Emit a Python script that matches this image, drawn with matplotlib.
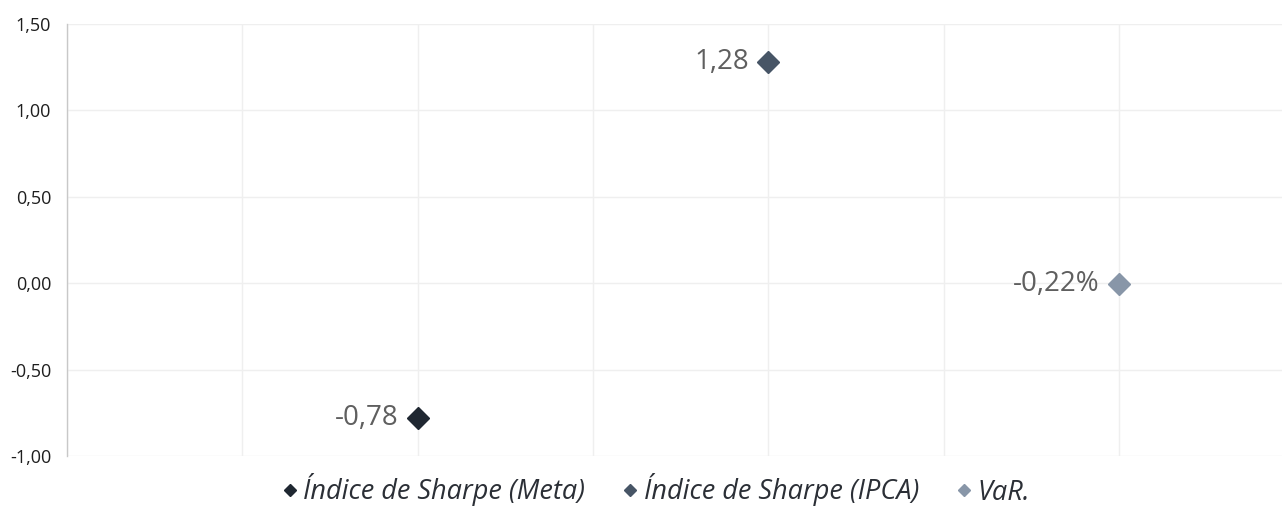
import matplotlib
matplotlib.use("Agg")
import matplotlib.pyplot as plt
from matplotlib.lines import Line2D
from matplotlib.ticker import FuncFormatter, MultipleLocator

series_names = ["Índice de Sharpe (Meta)", "Índice de Sharpe (IPCA)", "VaR."]
x_positions = [2, 4, 6]
y_values = [-0.78, 1.28, -0.0022]
point_labels = ["-0,78", "1,28", "-0,22%"]
colors = ["#1f2731", "#475566", "#8896a8"]

plt.rcParams['font.family'] = ['Open Sans', 'DejaVu Sans']

fig = plt.figure(figsize=(12.82, 5.07), dpi=100)
ax = fig.add_axes([67/1282, 51/507, 1 - 67/1282, (456-24)/507])

for xv, yv, lab, c in zip(x_positions, y_values, point_labels, colors):
    ax.plot([xv], [yv], marker='D', markersize=11, color=c, linestyle='none', zorder=3)
    ax.annotate(lab, (xv, yv), xytext=(-14, 0), textcoords='offset points',
                ha='right', va='center', fontsize=20, color='#5f5f5f')

ax.set_xlim(0, (1282-67)/175.3)
ax.set_ylim(-1.0, 1.5)
ax.yaxis.set_major_locator(MultipleLocator(0.5))
ax.xaxis.set_major_locator(MultipleLocator(1))
ax.yaxis.set_major_formatter(FuncFormatter(lambda v, p: f"{v:.2f}".replace('.', ',')))
ax.tick_params(axis='x', bottom=False, labelbottom=False)
ax.tick_params(axis='y', left=False, labelsize=13, labelcolor='#1e1e1e', pad=8)
for t in ax.get_yticklabels():
    t.set_fontweight(500)
ax.grid(True, color='#efefef', linewidth=1)
ax.set_axisbelow(True)
for s in ['top', 'right', 'bottom']:
    ax.spines[s].set_visible(False)
ax.spines['left'].set_color('#c8c8c8')
ax.spines['left'].set_linewidth(1)

handles = [Line2D([], [], marker='D', markersize=6, color=c, linestyle='none') for c in colors]
leg = fig.legend(handles, series_names, loc='center', bbox_to_anchor=(0.5 + 14/1282, 17/507), ncol=3,
                 frameon=False, handletextpad=0.15, columnspacing=1.3, handlelength=0.7,
                 prop={'family': 'Open Sans', 'style': 'italic', 'size': 19.5})
for t in leg.get_texts():
    t.set_color('#2b2f36')

fig.savefig("out.png", dpi=100)
